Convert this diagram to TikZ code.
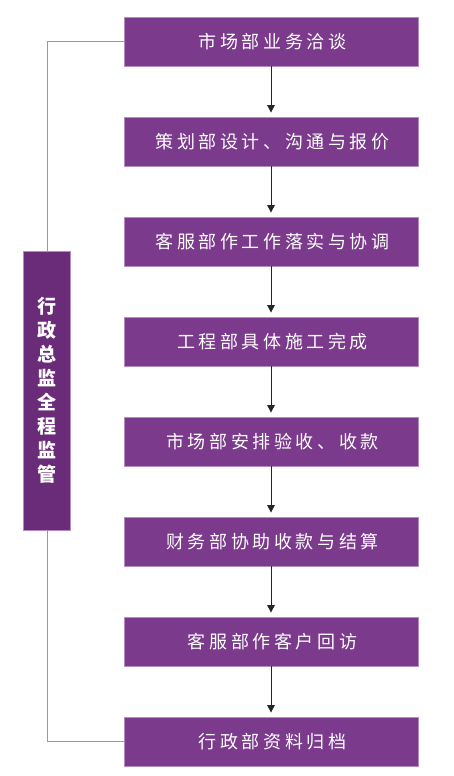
\documentclass[tikz,border=0pt]{standalone}
\usepackage{fontspec}
\newfontfamily\cjk[LetterSpace=20]{Noto Sans CJK SC}
\usetikzlibrary{arrows.meta}
\definecolor{boxpurple}{HTML}{7B3A8C}
\definecolor{barpurple}{HTML}{6A2C78}
\definecolor{edgepurple}{HTML}{B48CC0}
\definecolor{linegray}{HTML}{9A9A9A}
\tikzset{
  stepbox/.style={draw=edgepurple, line width=0.8pt, fill=boxpurple, minimum width=294pt, minimum height=49pt, inner sep=0pt, text=white, font=\cjk\fontsize{18}{20}\selectfont},
  flowarrow/.style={draw=black!85, line width=1pt, -{Triangle[length=7.5pt,width=7.5pt]}},
  bracketline/.style={draw=linegray, line width=1pt},
}
\begin{document}
\begin{tikzpicture}[x=1pt,y=1pt]
\useasboundingbox (0,0) rectangle (453,776);
\foreach \i/\t in {1/市场部业务洽谈,2/策划部设计、沟通与报价,3/客服部作工作落实与协调,4/工程部具体施工完成,5/市场部安排验收、收款,6/财务部协助收款与结算,7/客服部作客户回访,8/行政部资料归档}{
  \node[stepbox] (b\i) at (271, {776-41.5-100*(\i-1)}) {\hspace*{3pt}\t};
}
\foreach \i [evaluate=\i as \j using int(\i+1)] in {1,...,7}{
  \draw[flowarrow] (b\i.south) -- ([yshift=4pt]b\j.north);
}
\node[draw=edgepurple, line width=0.8pt, fill=barpurple, minimum width=47pt, minimum height=279pt, inner sep=0pt, text=white, align=center, font=\cjk\bfseries\fontsize{19}{24}\selectfont] (bar) at (47, {776-390.5}) {行\\政\\总\\监\\全\\程\\监\\管};
\draw[bracketline] (bar.north) -- (47,{776-41.5}) -- (b1.west);
\draw[bracketline] (bar.south) -- (47,{776-741.5}) -- (b8.west);
\end{tikzpicture}
\end{document}
